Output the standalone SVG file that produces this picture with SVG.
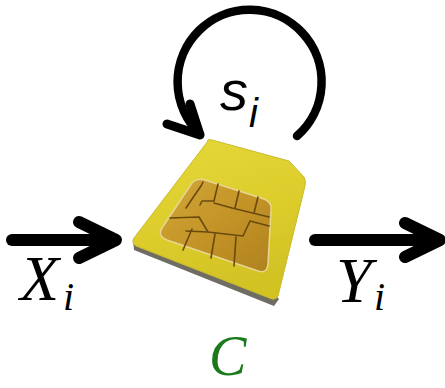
<svg xmlns="http://www.w3.org/2000/svg" width="445" height="388" viewBox="0 0 445 388">
  <style>
    .wire { fill: none; stroke: #000; stroke-linecap: round; stroke-linejoin: round; }
    .math { font-family: "Liberation Serif", "DejaVu Serif", serif; font-style: italic; fill: #000; }
    .sans { font-family: "Liberation Sans", "DejaVu Sans", sans-serif; font-style: italic; fill: #000; }
    .green { fill: #1b7a1b; }
    .trace { fill: none; stroke: #6a4a10; stroke-width: 1.6; stroke-linecap: round; stroke-linejoin: round; }
  </style>
  <defs>
    <linearGradient id="cardFill" x1="0" y1="0" x2="0.3" y2="1">
      <stop offset="0" stop-color="#e6d838"/>
      <stop offset="0.6" stop-color="#dccd2c"/>
      <stop offset="1" stop-color="#d2c224"/>
    </linearGradient>
    <linearGradient id="chipFill" x1="0" y1="0" x2="1" y2="1">
      <stop offset="0" stop-color="#d2a838"/>
      <stop offset="0.5" stop-color="#c49428"/>
      <stop offset="1" stop-color="#b0821e"/>
    </linearGradient>
    <filter id="soft" x="-5%" y="-5%" width="110%" height="110%">
      <feGaussianBlur stdDeviation="0.6"/>
    </filter>
  </defs>
  <rect width="445" height="388" fill="#fff"/>

  <!-- SIM card node -->
  <g id="card" filter="url(#soft)">
    <!-- card thickness (grey rim) -->
    <path d="M133,240 L134,250 L274,306 L279,299 L276,296 Z" fill="#6e6c64"/>
    <!-- card face -->
    <path d="M208,141 Q206,139 212,140 L289,161 L304,177 Q306,180 305,186 L278,296 Q276,300 272,299 L136,246 Q131,243 134,238 Z" fill="url(#cardFill)" stroke="#c8bb2a" stroke-width="1"/>
    <!-- chip -->
    <path d="M205,180 L264,199 Q272,202 271,210 L268,264 Q267,274 258,271 L167,240 Q157,236 162,228 L190,186 Q195,177 205,180 Z" fill="url(#chipFill)" stroke="#e8d690" stroke-width="1.5"/>
    <!-- contact pad traces -->
    <path class="trace" d="M203,182 L201,186 Q194,196 186,208"/>
    <path class="trace" d="M218,184 L214,201 L202,201 L200,205"/>
    <path class="trace" d="M239,191 L235,208"/>
    <path class="trace" d="M258,197 L254,213"/>
    <path class="trace" d="M214,203 L232,208 L269,217"/>
    <path class="trace" d="M170,218 L199,217 L208,232 L243,236 L250,221 L269,226"/>
    <path class="trace" d="M192,229 L183,250"/>
    <path class="trace" d="M215,234 L211,258"/>
    <path class="trace" d="M236,237 L234,266"/>
    <path class="trace" d="M186,231 L208,232"/>
  </g>

  <!-- connectors -->
  <g id="connectors">
    <!-- self loop -->
    <path class="wire" stroke-width="8.5" d="M297,136 A72,72 0 1 0 200,134"/>
    <path class="wire" stroke-width="9" d="M167,124 L200,135 L190,104"/>
    <!-- input arrow -->
    <path class="wire" stroke-width="12" stroke-linecap="butt" d="M12,240 L112,240"/>
    <path class="wire" stroke-width="12" d="M79,222 L116,240 L79,258"/>
    <!-- output arrow -->
    <path class="wire" stroke-width="12" stroke-linecap="butt" d="M315,240 L436,240"/>
    <path class="wire" stroke-width="12" d="M405,223 L440,240 L405,257"/>
  </g>

  <!-- labels -->
  <g id="labels">
    <text class="sans" x="220" y="110" font-size="56">s</text>
    <text class="sans" x="249" y="127" font-size="40">i</text>
    <text class="math" x="20" y="300" font-size="64">X</text>
    <text class="math" x="63" y="310" font-size="40">i</text>
    <text class="math" x="336" y="302" font-size="64">Y</text>
    <text class="math" x="374" y="310" font-size="40">i</text>
    <text class="math green" x="209" y="375" font-size="56">C</text>
  </g>
</svg>
